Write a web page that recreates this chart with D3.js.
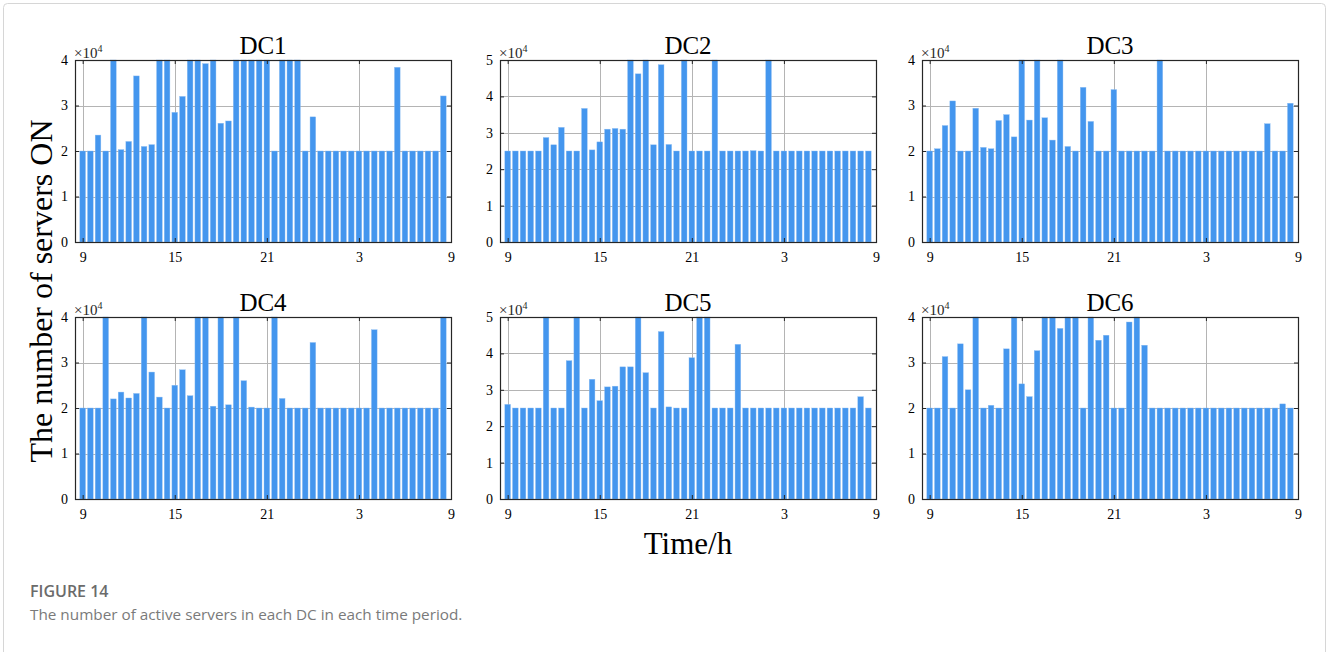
<!DOCTYPE html>
<html>
<head>
<meta charset="utf-8">
<script src="https://cdn.jsdelivr.net/npm/d3@7"></script>
<style>
  body { margin: 0; background: #fff; }
  svg text { font-family: "Liberation Serif", "Times New Roman", serif; }
</style>
</head>
<body>
<svg id="chart" width="1328" height="652"></svg>
<script>
// number of servers ON per half-hour period, 9:00 -> 8:30 next day
const dc1 = [20000, 20000, 23500, 20000, 40000, 20300, 22100, 36500, 21000, 21400,
  40000, 40000, 28500, 32000, 40000, 40000, 39200, 40000, 26100, 26600,
  40000, 40000, 40000, 40000, 40000, 20000, 40000, 40000, 40000, 20000,
  27500, 20000, 20000, 20000, 20000, 20000, 20000, 20000, 20000, 20000,
  20000, 38400, 20000, 20000, 20000, 20000, 20000, 32100];
const dc2 = [25000, 25000, 25000, 25000, 25000, 28700, 26700, 31500, 25000, 25000,
  36700, 25300, 27500, 31000, 31200, 31000, 50000, 46200, 50000, 26700,
  48700, 26800, 25000, 50000, 25000, 25000, 25000, 50000, 25000, 25000,
  25000, 25000, 25100, 25000, 50000, 25000, 25000, 25000, 25000, 25000,
  25000, 25000, 25000, 25000, 25000, 25000, 25000, 25000];
const dc3 = [20000, 20500, 25600, 31000, 20000, 20000, 29400, 20800, 20500, 26700,
  28000, 23100, 40000, 26800, 40000, 27300, 22400, 40000, 21000, 20000,
  34000, 26500, 20000, 20000, 33500, 20000, 20000, 20000, 20000, 20000,
  40000, 20000, 20000, 20000, 20000, 20000, 20000, 20000, 20000, 20000,
  20000, 20000, 20000, 20000, 26000, 20000, 20000, 30500];
const dc4 = [20000, 20000, 20000, 40000, 22000, 23500, 22200, 23200, 40000, 27900,
  22400, 20000, 25000, 28400, 22700, 40000, 40000, 20400, 40000, 20700,
  40000, 26000, 20200, 20000, 20000, 40000, 22100, 20000, 20000, 20000,
  34400, 20000, 20000, 20000, 20000, 20000, 20000, 20000, 37200, 20000,
  20000, 20000, 20000, 20000, 20000, 20000, 20000, 40000];
const dc5 = [26000, 25000, 25000, 25000, 25000, 50000, 25000, 25000, 38000, 50000,
  25000, 32900, 27000, 30800, 31000, 36300, 36300, 50000, 34700, 25000,
  46000, 25300, 25000, 25000, 38800, 50000, 50000, 25000, 25000, 25000,
  42500, 25000, 25000, 25000, 25000, 25000, 25000, 25000, 25000, 25000,
  25000, 25000, 25000, 25000, 25000, 25000, 28100, 25000];
const dc6 = [20000, 20000, 31300, 20000, 34100, 24000, 40000, 20000, 20600, 20000,
  33000, 40000, 25300, 22500, 32600, 40000, 40000, 37500, 40000, 40000,
  20000, 40000, 34900, 36000, 20000, 20000, 38900, 40000, 33800, 20000,
  20000, 20000, 20000, 20000, 20000, 20000, 20000, 20000, 20000, 20000,
  20000, 20000, 20000, 20000, 20000, 20000, 20900, 20000];

const panelNames = ['DC1', 'DC2', 'DC3', 'DC4', 'DC5', 'DC6'];
const panelData = [dc1, dc2, dc3, dc4, dc5, dc6];
const panelYMax = [40000, 50000, 40000, 40000, 50000, 40000];

// hour ticks (27 = 3 o'clock, 33 = 9 o'clock next day)
const xTicks = [9, 15, 21, 27, 33];
const xTickLabels = ['9', '15', '21', '3', '9'];

const W = 376;
const H = 182;
const colX = [75, 500, 922];
const rowY = [60, 317];
const barColor = '#4496ee';
const gridColor = '#b4b4b4';
const axisColor = '#262626';

const svg = d3.select('#chart');

// light frame round the figure
svg.append('rect')
  .attr('x', 3.5).attr('y', 3.5)
  .attr('width', 1322).attr('height', 700)
  .attr('rx', 4)
  .attr('fill', 'none')
  .attr('stroke', '#d6d6d6');

/**
 * Draws one DC panel
 */
function drawPanel(i) {
  const data = panelData[i];
  const yMax = panelYMax[i];
  const left = colX[i % 3];
  const top = rowY[Math.floor(i / 3)];

  const g = svg.append('g').attr('transform', `translate(${left},${top})`);

  const x = d3.scaleLinear().domain([8.5, 33]).range([0, W]);
  const y = d3.scaleLinear().domain([0, yMax]).range([H, 0]);
  const yTicks = d3.range(0, yMax + 1, 10000);
  const periods = data.map((d, k) => 9 + k * 0.5);
  const bw = x(9.37) - x(9);

  // grid
  g.append('g')
    .selectAll('line')
    .data(yTicks)
    .join('line')
    .attr('x1', 0).attr('x2', W)
    .attr('y1', (d) => Math.round(y(d)) + 0.5)
    .attr('y2', (d) => Math.round(y(d)) + 0.5)
    .attr('stroke', gridColor);
  g.append('g')
    .selectAll('line')
    .data(xTicks)
    .join('line')
    .attr('y1', 0).attr('y2', H)
    .attr('x1', (d) => Math.round(x(d)) + 0.5)
    .attr('x2', (d) => Math.round(x(d)) + 0.5)
    .attr('stroke', gridColor);

  // bars
  g.append('g')
    .selectAll('rect')
    .data(data)
    .join('rect')
    .attr('x', (d, k) => x(periods[k]) - bw / 2)
    .attr('y', (d) => y(d))
    .attr('width', bw)
    .attr('height', (d) => H - y(d))
    .attr('fill', barColor)
    .attr('stroke', '#8fbff3')
    .attr('stroke-width', 0.4);

  // axes with inward ticks
  const yAxis = g.append('g')
    .call(d3.axisLeft(y).tickValues(yTicks).tickSize(-4).tickSizeOuter(0)
      .tickPadding(7).tickFormat((d) => d / 10000));
  g.append('g')
    .attr('transform', `translate(${W},0)`)
    .call(d3.axisRight(y).tickValues(yTicks).tickSize(-4).tickSizeOuter(0).tickFormat(''));
  const xAxis = g.append('g')
    .attr('transform', `translate(0,${H})`)
    .call(d3.axisBottom(x).tickValues(xTicks).tickSize(-4).tickSizeOuter(0)
      .tickPadding(10).tickFormat((d, k) => xTickLabels[k]));
  g.append('g')
    .call(d3.axisTop(x).tickValues(xTicks).tickSize(-4).tickSizeOuter(0).tickFormat(''));

  g.selectAll('.domain').remove();
  g.selectAll('.tick line').attr('stroke', axisColor);
  [yAxis, xAxis].forEach((a) => a.selectAll('text')
    .attr('font-family', '"Liberation Serif", "Times New Roman", serif')
    .attr('font-size', 14)
    .attr('fill', '#000'));

  // box
  g.append('rect')
    .attr('x', 0.5).attr('y', 0.5)
    .attr('width', W).attr('height', H)
    .attr('fill', 'none')
    .attr('stroke', axisColor)
    .attr('stroke-width', 1.2);

  // exponent label
  const ex = g.append('text')
    .attr('x', -1).attr('y', -2)
    .attr('font-size', 15)
    .attr('fill', '#262626');
  ex.append('tspan').text('\u00d710');
  ex.append('tspan').attr('dy', -6).attr('font-size', 10).text('4');

  // title
  g.append('text')
    .attr('x', W / 2).attr('y', -6)
    .attr('text-anchor', 'middle')
    .attr('font-size', 25)
    .attr('fill', '#000')
    .text(panelNames[i]);
}

panelNames.forEach((n, i) => drawPanel(i));

// shared axis labels
svg.append('text')
  .attr('transform', 'translate(52,291) rotate(-90)')
  .attr('text-anchor', 'middle')
  .attr('font-size', 32)
  .text('The number of servers ON');
svg.append('text')
  .attr('x', 688).attr('y', 554)
  .attr('text-anchor', 'middle')
  .attr('font-size', 31)
  .text('Time/h');

// caption
svg.append('text')
  .attr('x', 30).attr('y', 597)
  .style('font-family', '"Open Sans", "Noto Sans", sans-serif')
  .attr('font-size', 16)
  .attr('font-weight', 600)
  .attr('fill', '#6b6b6b')
  .text('FIGURE 14');
svg.append('text')
  .attr('x', 30).attr('y', 620)
  .style('font-family', '"Open Sans", "Noto Sans", sans-serif')
  .attr('font-size', 15.3)
  .attr('fill', '#7a7a7a')
  .text('The number of active servers in each DC in each time period.');
</script>
</body>
</html>
